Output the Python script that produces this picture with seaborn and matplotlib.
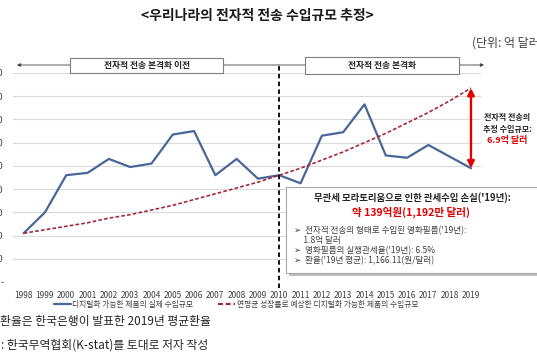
import numpy as np
import pandas as pd
import matplotlib
matplotlib.use("Agg")
import matplotlib.pyplot as plt
from matplotlib.patches import Rectangle, FancyArrowPatch
import seaborn as sns

# ---------------- data ----------------
years = list(range(1998, 2020))
actual = [4.2, 6.0, 9.2, 9.4, 10.6, 9.9, 10.2, 12.7, 13.0, 9.2, 10.6,
          8.9, 9.2, 8.5, 12.6, 12.9, 15.3, 10.9, 10.7, 11.8, 10.8, 9.8]
expected = [4.2, 4.5, 4.8, 5.1, 5.5, 5.8, 6.2, 6.6, 7.1, 7.6, 8.1,
            8.6, 9.2, 9.8, 10.5, 11.2, 12.0, 12.8, 13.7, 14.6, 15.6, 16.7]
yticks = [0, 2, 4, 6, 8, 10, 12, 14, 16, 18]
series_names = ["디지털화 가능한 제품의 실제 수입규모",
                "연평균 성장률로 예상한 디지털화 가능한 제품의 수입규모"]

title = "<우리나라의 전자적 전송 수입규모 추정>"
unit_text = "(단위: 억 달러)"
period1 = "전자적 전송 본격화 이전"
period2 = "전자적 전송 본격화"
gap_lines = ["전자적 전송의", "추정 수입규모:"]
gap_value = "6.9억 달러"
box_title = "무관세 모라토리움으로 인한 관세수입 손실('19년):"
box_value = "약 139억원(1,192만 달러)"
box_items = ["➢  전자적 전송의 형태로 수입된 영화필름('19년):",
             "     1.8억 달러",
             "➢  영화필름의 실행관세율('19년): 6.5%",
             "➢  환율('19년 평균): 1,166.11(원/달러)"]
note1 = "환율은 한국은행이 발표한 2019년 평균환율"
note2 = ": 한국무역협회(K-stat)를 토대로 저자 작성"

df = pd.DataFrame({
    "year": years * 2,
    "value": actual + expected,
    "series": [series_names[0]] * len(years) + [series_names[1]] * len(years),
})

# ---------------- style ----------------
sns.set_style("white")
plt.rcParams["font.family"] = ["Noto Sans CJK KR", "DejaVu Sans"]

W, H = 537, 357
fig = plt.figure(figsize=(W / 100, H / 100), dpi=100)
fig.patch.set_facecolor("white")

def fx(px):
    return px / W

def fy(py):
    return 1 - py / H

ax = fig.add_axes([fx(13), fy(282), (481 - 13) / W, (282 - 73) / H])

BLUE = "#4A6699"
RED = "#A3283A"

sns.lineplot(data=df, x="year", y="value", hue="series", style="series",
             palette={series_names[0]: BLUE, series_names[1]: RED},
             dashes={series_names[0]: "", series_names[1]: (2.2, 1.3)},
             linewidth=1.6, ax=ax, legend=True)
ax.get_lines()[1].set_linewidth(1.2)

ax.set_xlim(1997.5, 2019.47)
ax.set_ylim(0, 18)
ax.set_xticks(years)
ax.set_xticklabels([str(y) for y in years], fontsize=6, color="#404040")
ax.set_yticks(yticks)
ax.set_yticklabels(["-" if v == 0 else f"{v:.1f}" for v in yticks],
                   fontsize=6.5, color="#404040")
ax.tick_params(axis="x", length=0, pad=6.5)
ax.tick_params(axis="y", length=0, pad=7)
ax.set_xlabel("")
ax.set_ylabel("")
for s in ax.spines.values():
    s.set_visible(False)
ax.grid(axis="y", color="#D9D9D9", linewidth=0.8)
ax.grid(axis="x", visible=False)
ax.set_axisbelow(True)

# legend
sns.move_legend(ax, loc="center", bbox_to_anchor=(fx(236), fy(305)),
                bbox_transform=fig.transFigure, ncol=2, frameon=False,
                title=None, fontsize=5.6, handlelength=2.2,
                handletextpad=0.2, columnspacing=3.2)
leg = ax.get_legend()
for t in leg.get_texts():
    t.set_color("#404040")

# vertical dashed divider at 2010
ax.plot([2010, 2010], [-0.5, 18.9], color="black", lw=1.3,
        ls=(0, (2.5, 1.8)), clip_on=False, zorder=5)

# period brackets
arrow_kw = dict(arrowstyle="-|>", color="#404040", lw=0.6, mutation_scale=5,
                shrinkA=0, shrinkB=0)
fig.add_artist(FancyArrowPatch((fx(279), fy(65)), (fx(17), fy(65)),
                               transform=fig.transFigure, **arrow_kw))
fig.add_artist(FancyArrowPatch((fx(279), fy(65)), (fx(484), fy(65)),
                               transform=fig.transFigure, **arrow_kw))
for (x0, x1, y0, y1, txt) in [(70, 223, 58, 73, period1), (305, 459, 57, 74, period2)]:
    fig.add_artist(Rectangle((fx(x0), fy(y1)), (x1 - x0) / W, (y1 - y0) / H,
                             transform=fig.transFigure, facecolor="white",
                             edgecolor="#7F7F7F", lw=0.8, zorder=6))
    fig.text(fx((x0 + x1) / 2), fy((y0 + y1) / 2), txt, ha="center", va="center",
             fontsize=6.3, fontweight="bold", color="#262626", zorder=7)

# red double arrow showing the gap in 2019
ax.annotate("", xy=(years[-1], expected[-1]), xytext=(years[-1], actual[-1]),
            arrowprops=dict(arrowstyle="<|-|>", color="#E00000", lw=1.7,
                            mutation_scale=10, shrinkA=0, shrinkB=0),
            annotation_clip=False, zorder=6)
fig.text(fx(507), fy(118), gap_lines[0], ha="center", va="center",
         fontsize=5.8, fontweight="bold", color="#262626")
fig.text(fx(507), fy(129), gap_lines[1], ha="center", va="center",
         fontsize=5.8, fontweight="bold", color="#262626")
fig.text(fx(507), fy(141), gap_value, ha="center", va="center",
         fontsize=6.5, fontweight="bold", color="#E00000")

# annotation box with shadow
fig.add_artist(Rectangle((fx(289), fy(276)), (560 - 289) / W, (276 - 190) / H,
                         transform=fig.transFigure, facecolor="#BFBFBF",
                         edgecolor="none", zorder=6))
fig.add_artist(Rectangle((fx(286), fy(273)), (560 - 286) / W, (273 - 187) / H,
                         transform=fig.transFigure, facecolor="white",
                         edgecolor="#A6A6A6", lw=0.8, zorder=7))
fig.text(fx(412), fy(198), box_title, ha="center", va="center",
         fontsize=6.8, fontweight="bold", color="#262626", zorder=8)
fig.text(fx(411), fy(212), box_value, ha="center", va="center",
         fontsize=7.6, fontweight="bold", color="#E00000", zorder=8)
for txt, yy in zip(box_items, [231, 241, 251, 261]):
    fig.text(fx(294), fy(yy), txt, ha="left", va="center",
             fontsize=6.2, color="#404040", zorder=8)

# title and unit
fig.text(fx(257), fy(16), title, ha="center", va="center",
         fontsize=10, fontweight="bold", color="#1A1A1A")
fig.text(fx(472), fy(43), unit_text, ha="left", va="center",
         fontsize=8.6, color="#404040")

# footnotes (cut at left edge, as in the reference)
fig.text(fx(0), fy(322), note1, ha="left", va="center",
         fontsize=8.5, color="#262626")
fig.text(fx(1), fy(345), note2, ha="left", va="center",
         fontsize=8.5, color="#262626")

fig.savefig("out.png", dpi=100)
